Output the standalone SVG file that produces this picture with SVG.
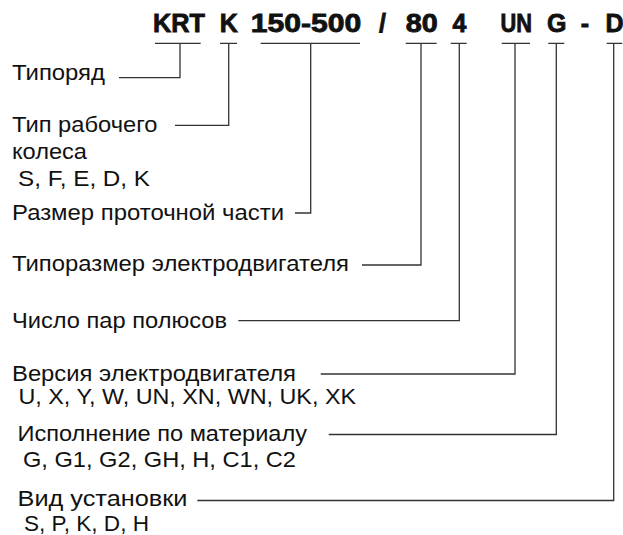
<svg xmlns="http://www.w3.org/2000/svg" width="623" height="535" viewBox="0 0 623 535">
<style>
.t{font-family:"Liberation Sans",Arial,sans-serif;font-size:22px;fill:#111}
.h{font-family:"Liberation Sans",Arial,sans-serif;font-size:25px;font-weight:bold;fill:#111;stroke:#111;stroke-width:0.8}
.c{fill:none;stroke:#333;stroke-width:1.3}
</style>
<rect width="623" height="535" fill="#fff"/>
<g id="title">
<text class="h" x="153" y="31.5" textLength="52" lengthAdjust="spacingAndGlyphs">KRT</text>
<text class="h" x="228.7" y="31.5" text-anchor="middle">K</text>
<text class="h" x="250.8" y="31.5" textLength="110.5" lengthAdjust="spacingAndGlyphs">150-500</text>
<text class="h" x="382.5" y="31.5" text-anchor="middle">/</text>
<text class="h" x="405.7" y="31.5" textLength="32" lengthAdjust="spacingAndGlyphs">80</text>
<text class="h" x="459.5" y="31.5" text-anchor="middle">4</text>
<text class="h" x="500.5" y="31.5" textLength="31.5" lengthAdjust="spacingAndGlyphs">UN</text>
<text class="h" x="556.7" y="31.5" text-anchor="middle">G</text>
<text class="h" x="585" y="31.5" text-anchor="middle">-</text>
<text class="h" x="614.5" y="31.5" text-anchor="middle">D</text>
</g>
<g id="n1"><text class="t" x="12" y="80" textLength="93" lengthAdjust="spacingAndGlyphs">Типоряд</text></g>
<g id="n2">
<text class="t" x="12" y="132" textLength="145.5" lengthAdjust="spacingAndGlyphs">Тип рабочего</text>
<text class="t" x="12" y="159" textLength="75" lengthAdjust="spacingAndGlyphs">колеса</text>
<text class="t" x="18" y="186" textLength="132" lengthAdjust="spacingAndGlyphs">S, F, E, D, K</text>
</g>
<g id="n3"><text class="t" x="12" y="220" textLength="272" lengthAdjust="spacingAndGlyphs">Размер проточной части</text></g>
<g id="n4"><text class="t" x="12" y="271" textLength="337" lengthAdjust="spacingAndGlyphs">Типоразмер электродвигателя</text></g>
<g id="n5"><text class="t" x="12" y="327.5" textLength="215" lengthAdjust="spacingAndGlyphs">Число пар полюсов</text></g>
<g id="n6">
<text class="t" x="12" y="381" textLength="284" lengthAdjust="spacingAndGlyphs">Версия электродвигателя</text>
<text class="t" x="18.5" y="404" textLength="337.5" lengthAdjust="spacingAndGlyphs">U, X, Y, W, UN, XN, WN, UK, XK</text>
</g>
<g id="n7">
<text class="t" x="17.5" y="441" textLength="289.5" lengthAdjust="spacingAndGlyphs">Исполнение по материалу</text>
<text class="t" x="23" y="467" textLength="273" lengthAdjust="spacingAndGlyphs">G, G1, G2, GH, H, C1, C2</text>
</g>
<g id="n8">
<text class="t" x="17.5" y="506" textLength="170" lengthAdjust="spacingAndGlyphs">Вид установки</text>
<text class="t" x="24" y="530.5" textLength="125" lengthAdjust="spacingAndGlyphs">S, P, K, D, H</text>
</g>
<g id="connectors">
<path class="c" d="M155 43.3H200.7M180 43.3V77.7H119"/>
<path class="c" d="M220 43.3H237M228.7 43.3V125.3H175"/>
<path class="c" d="M260.7 43.3H360M310.7 43.3V213H295"/>
<path class="c" d="M405.7 43.3H436.7M421 43.3V265H362"/>
<path class="c" d="M450.7 43.3H466.7M459.3 43.3V320.7H238.3"/>
<path class="c" d="M501.7 43.3H530M515 43.3V374H320.7"/>
<path class="c" d="M548.3 43.3H564.3M556.3 43.3V434.5H328.7"/>
<path class="c" d="M606.7 43.3H622.3M613.7 43.3V500.5H197.3"/>
</g>
</svg>
